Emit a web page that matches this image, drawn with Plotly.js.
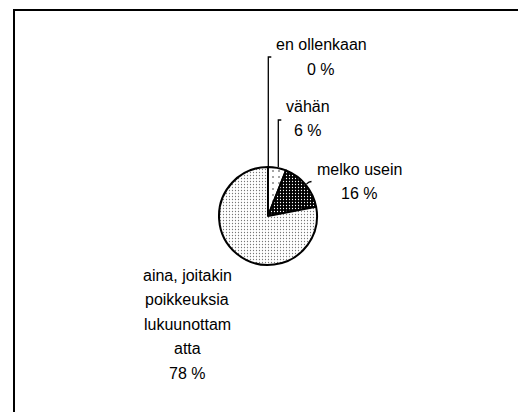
<!DOCTYPE html>
<html>
<head>
<meta charset="utf-8">
<script src="https://cdn.plot.ly/plotly-3.0.1.min.js"></script>
<style>html,body{margin:0;padding:0;background:#fff;}#chart{width:518px;height:412px;}</style>
</head>
<body>
<div id="chart"></div>
<script>
// Data
const categories = ['en ollenkaan', 'vähän', 'melko usein', 'aina, joitakin poikkeuksia lukuunottamatta'];
const values = [0, 6, 16, 78];
const percentLabels = ['0 %', '6 %', '16 %', '78 %'];
const wrappedNames = [
  ['en ollenkaan'],
  ['vähän'],
  ['melko usein'],
  ['aina, joitakin', 'poikkeuksia', 'lukuunottam', 'atta']
];

// Layout helpers (pixel -> paper)
const W = 518, H = 412;
const px = x => x / W;
const py = y => 1 - y / H;

const cx = 268, cy = 216, r = 49;

// label anchor positions (pixels): centre x, first line centre y
const labelPos = [
  [321, 45],
  [308, 106.5],
  [359, 169.5],
  [187, 275.5]
];
const lineStep = 24.4;

const font = {family: 'Liberation Sans, Arial, sans-serif', size: 16, color: '#000'};

const annotations = [];
categories.forEach((c, i) => {
  const lines = wrappedNames[i].concat([percentLabels[i]]);
  lines.forEach((t, j) => {
    annotations.push({
      xref: 'paper', yref: 'paper',
      x: px(labelPos[i][0]), y: py(labelPos[i][1] + j * lineStep),
      xanchor: 'center', yanchor: 'middle',
      text: t, showarrow: false, font: font
    });
  });
});

const ln = {color: '#000', width: 1.3};
const shapes = [
  // chart frame
  {type: 'rect', xref: 'paper', yref: 'paper', x0: px(14), x1: px(530), y0: py(430), y1: py(10),
   line: {color: '#000', width: 2}, fillcolor: 'rgba(0,0,0,0)'},
  // leader: en ollenkaan
  {type: 'path', xref: 'paper', yref: 'paper',
   path: `M ${px(268.3)} ${py(167)} L ${px(268.3)} ${py(57)} L ${px(271.3)} ${py(57)}`, line: ln},
  // leader: vähän
  {type: 'path', xref: 'paper', yref: 'paper',
   path: `M ${px(278.3)} ${py(167)} L ${px(278.3)} ${py(120)} L ${px(281.3)} ${py(120)}`, line: ln},
  // leader: melko usein
  {type: 'path', xref: 'paper', yref: 'paper',
   path: `M ${px(306.5)} ${py(184)} L ${px(309)} ${py(182)} L ${px(311.5)} ${py(181.5)}`, line: ln}
];

const trace = {
  type: 'pie',
  labels: categories,
  values: values,
  sort: false,
  direction: 'clockwise',
  rotation: 0,
  textinfo: 'none',
  hoverinfo: 'none',
  showlegend: false,
  domain: {x: [px(cx - r), px(cx + r)], y: [py(cy + r), py(cy - r)]},
  marker: {
    colors: ['#ffffff', '#ffffff', '#000000', '#ffffff'],
    line: {color: '#000', width: 2},
    pattern: {
      shape: ['', '.', '.', '.'],
      bgcolor: ['#ffffff', '#ffffff', '#000000', '#ffffff'],
      fgcolor: ['#000000', '#333333', '#ffffff', '#777777'],
      fgopacity: 1,
      size: [4, 6, 3, 3],
      solidity: [0.2, 0.06, 0.14, 0.14],
      fillmode: 'replace'
    }
  }
};

const layout = {
  width: W, height: H,
  margin: {l: 0, r: 0, t: 0, b: 0},
  paper_bgcolor: '#fff', plot_bgcolor: '#fff',
  annotations: annotations,
  shapes: shapes
};

Plotly.newPlot('chart', [trace], layout, {staticPlot: true, displayModeBar: false});
</script>
</body>
</html>
